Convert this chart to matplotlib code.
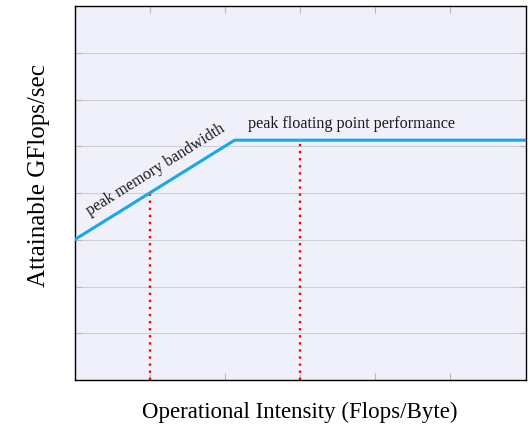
import matplotlib
matplotlib.use("Agg")
import matplotlib.pyplot as plt

# Data
roof_x = [0.0, 2.13, 6.0]
roof_y = [3.0, 5.13, 5.13]
kernel_x = [1.0, 3.0]
kernel_y = [4.0, 5.13]
x_ticks = [1, 2, 3, 4, 5]
y_ticks = [1, 2, 3, 4, 5, 6, 7]
x_label = "Operational Intensity (Flops/Byte)"
y_label = "Attainable GFlops/sec"
bw_label = "peak memory bandwidth"
fp_label = "peak floating point performance"

plt.rcParams['font.family'] = ['Liberation Serif', 'DejaVu Serif']

fig = plt.figure(figsize=(5.31, 4.26), dpi=100)
ax = fig.add_axes([74.5/531, 1 - 380/426, 451/531, 374/426])
ax.set_facecolor('#f0f0fb')
ax.set_xlim(0, 6)
ax.set_ylim(0, 8)
ax.set_xticks(x_ticks)
ax.set_yticks(y_ticks)
ax.set_xticklabels([])
ax.set_yticklabels([])
ax.tick_params(direction='in', length=5, width=0.8, color='#b8b8b8',
               top=True, right=True, bottom=True, left=True)
ax.grid(axis='y', color='#cfcfd8', linewidth=0.8)
ax.set_axisbelow(True)
for s in ax.spines.values():
    s.set_linewidth(1.0)
    s.set_color('black')

ax.plot(roof_x, roof_y, color='#17a8e8', linewidth=2.2, solid_joinstyle='miter', zorder=3)
for kx, ky in zip(kernel_x, kernel_y):
    ax.plot([kx, kx], [0, ky], color='#ff0000', linewidth=1.7,
            linestyle=(0, (1, 2.0)), zorder=2)

ax.text(0.2, 3.52, bw_label, rotation=32, rotation_mode='anchor',
        fontsize=11.6, ha='left', va='baseline', color='#1a1a1a')
ax.text(2.31, 5.38, fp_label, fontsize=11.6, ha='left', va='baseline', color='#1a1a1a')

fig.text(300/531, 1 - 412/426, x_label, fontsize=16.5, ha='center', va='center')
fig.text(39/531, 1 - 176/426, y_label, fontsize=18, ha='center', va='center', rotation=90)

fig.savefig('out.png', dpi=100)
